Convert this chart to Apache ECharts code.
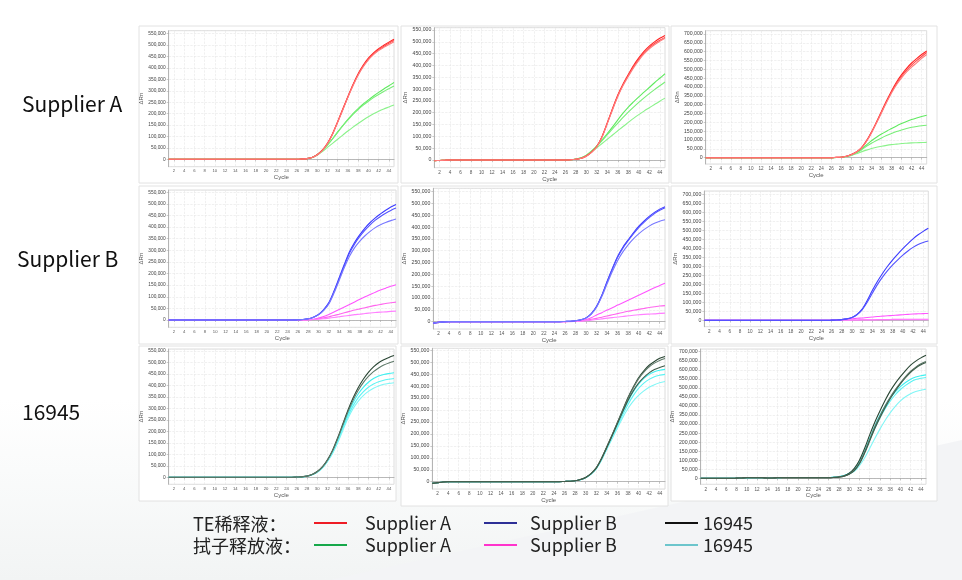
<!DOCTYPE html>
<html>
<head>
<meta charset="utf-8">
<script src="https://cdn.jsdelivr.net/npm/echarts@6/dist/echarts.min.js"></script>
<style>
html, body { margin: 0; padding: 0; background: #fff; }
#chart { width: 962px; height: 580px; }
</style>
</head>
<body>
<div id="chart"></div>
<script>
// x categories (cycle numbers)
var cycles = ['1','2','3','4','5','6','7','8','9','10','11','12','13','14','15','16','17','18','19','20',
  '21','22','23','24','25','26','27','28','29','30','31','32','33','34','35','36','37','38','39','40',
  '41','42','43','44','45'];

// ΔRn values in thousands, one array per well, cycles 1..45
// row Supplier A
var p1Red = [
  [0,0,0,0,0, 0,0,0,0,0, 0,0,0,0,0, 0,0,0,0,0, 0,0,0,0,0, 0,1,3,8,20,40,70,112,165,220,275,328,375,413,443,466,484,499,513,526],
  [0,0,0,0,0, 0,0,0,0,0, 0,0,0,0,0, 0,0,0,0,0, 0,0,0,0,0, 0,1,3,8,20,39,69,111,163,218,273,325,371,409,439,462,480,494,508,520],
  [0,0,0,0,0, 0,0,0,0,0, 0,0,0,0,0, 0,0,0,0,0, 0,0,0,0,0, 0,1,3,8,19,38,68,110,162,216,271,322,368,405,435,458,476,490,503,515]
];
var p1Green = [
  [0,0,0,0,0, 0,0,0,0,0, 0,0,0,0,0, 0,0,0,0,0, 0,0,0,0,0, 0,1,3,8,20,40,63,90,120,148,175,200,222,242,260,277,293,308,322,336],
  [0,0,0,0,0, 0,0,0,0,0, 0,0,0,0,0, 0,0,0,0,0, 0,0,0,0,0, 0,1,3,8,20,39,62,89,118,146,172,197,218,237,254,270,284,297,309,321],
  [0,0,0,0,0, 0,0,0,0,0, 0,0,0,0,0, 0,0,0,0,0, 0,0,0,0,0, 0,1,3,7,18,34,52,70,88,106,124,141,157,172,186,199,210,220,229,238]
];
var p2Red = [
  [-3,-2,-1,0,0, 0,0,0,0,0, 0,0,0,0,0, 0,0,0,0,0, 0,0,0,0,0, 0,1,3,7,17,33,58,100,158,218,275,322,362,400,432,460,482,500,515,527],
  [-3,-2,-1,0,0, 0,0,0,0,0, 0,0,0,0,0, 0,0,0,0,0, 0,0,0,0,0, 0,1,3,7,17,33,57,99,156,216,272,319,358,395,427,454,476,493,507,519],
  [-3,-2,-1,0,0, 0,0,0,0,0, 0,0,0,0,0, 0,0,0,0,0, 0,0,0,0,0, 0,1,3,7,16,32,56,97,154,213,269,315,354,390,422,449,471,488,502,515]
];
var p2Green = [
  [-3,-2,-1,0,0, 0,0,0,0,0, 0,0,0,0,0, 0,0,0,0,0, 0,0,0,0,0, 0,1,4,9,20,38,60,85,112,140,170,198,224,246,267,287,307,327,346,365],
  [-3,-2,-1,0,0, 0,0,0,0,0, 0,0,0,0,0, 0,0,0,0,0, 0,0,0,0,0, 0,1,4,9,20,37,58,82,107,132,156,180,203,224,244,263,281,298,314,330],
  [-3,-2,-1,0,0, 0,0,0,0,0, 0,0,0,0,0, 0,0,0,0,0, 0,0,0,0,0, 0,1,3,8,18,34,52,70,88,106,124,142,159,176,192,207,221,235,249,262]
];
var p3Red = [
  [0,0,0,0,0, 0,0,0,0,0, 0,0,0,0,0, 0,0,0,0,0, 0,0,0,0,0, 0,2,3,8,18,33,56,95,145,202,262,322,378,428,470,506,536,561,584,604],
  [0,0,0,0,0, 0,0,0,0,0, 0,0,0,0,0, 0,0,0,0,0, 0,0,0,0,0, 0,2,3,8,18,32,55,93,142,198,257,316,372,420,461,495,524,549,573,595],
  [0,0,0,0,0, 0,0,0,0,0, 0,0,0,0,0, 0,0,0,0,0, 0,0,0,0,0, 0,2,3,8,17,32,54,92,140,196,254,312,366,413,452,485,513,537,562,584]
];
var p3Green = [
  [0,0,0,0,0, 0,0,0,0,0, 0,0,0,0,0, 0,0,0,0,0, 0,0,0,0,0, 0,1,3,7,15,28,48,72,96,116,134,150,165,180,193,205,216,225,233,240],
  [0,0,0,0,0, 0,0,0,0,0, 0,0,0,0,0, 0,0,0,0,0, 0,0,0,0,0, 0,1,3,7,14,26,44,64,82,98,112,125,137,148,157,165,172,177,181,184],
  [0,0,0,0,0, 0,0,0,0,0, 0,0,0,0,0, 0,0,0,0,0, 0,0,0,0,0, 0,1,3,6,13,22,33,43,52,59,65,70,74,77,80,82,84,85,86,87]
];
// row Supplier B
var p4Blue = [
  [0,0,0,0,0, 0,0,0,0,0, 0,0,0,0,0, 0,0,0,0,0, 0,0,0,0,0, 1,2,5,12,24,45,75,125,182,240,294,335,368,396,420,440,457,473,487,498],
  [0,0,0,0,0, 0,0,0,0,0, 0,0,0,0,0, 0,0,0,0,0, 0,0,0,0,0, 1,2,5,12,23,43,72,121,177,234,288,328,360,387,410,430,446,460,472,482],
  [0,0,0,0,0, 0,0,0,0,0, 0,0,0,0,0, 0,0,0,0,0, 0,0,0,0,0, 1,2,5,11,22,41,69,116,170,226,275,312,340,363,382,398,410,420,428,435]
];
var p4Pink = [
  [0,0,0,0,0, 0,0,0,0,0, 0,0,0,0,0, 0,0,0,0,0, 0,0,0,0,0, 0,0,1,3,8,15,24,34,45,56,67,78,89,100,110,120,129,137,145,152],
  [0,0,0,0,0, 0,0,0,0,0, 0,0,0,0,0, 0,0,0,0,0, 0,0,0,0,0, 0,0,1,2,5,9,14,19,25,31,37,43,48,53,58,63,67,71,74,77],
  [0,0,0,0,0, 0,0,0,0,0, 0,0,0,0,0, 0,0,0,0,0, 0,0,0,0,0, 0,0,1,2,3,5,8,11,14,17,20,23,25,28,30,32,34,35,37,38]
];
var p5Blue = [
  [-6,-3,-1,0,0, 0,0,0,0,0, 0,0,0,0,0, 0,0,0,0,0, 0,0,0,0,0, 1,2,4,8,16,34,65,112,170,225,276,315,346,376,403,425,445,462,476,486],
  [-6,-3,-1,0,0, 0,0,0,0,0, 0,0,0,0,0, 0,0,0,0,0, 0,0,0,0,0, 1,2,4,8,16,33,63,110,167,222,272,311,342,371,398,420,440,457,471,482],
  [-6,-3,-1,0,0, 0,0,0,0,0, 0,0,0,0,0, 0,0,0,0,0, 0,0,0,0,0, 1,2,4,8,15,32,61,106,160,212,258,295,325,350,371,389,404,416,425,431]
];
var p5Pink = [
  [-6,-3,-1,0,0, 0,0,0,0,0, 0,0,0,0,0, 0,0,0,0,0, 0,0,0,0,0, 0,1,2,4,9,17,28,38,49,59,70,80,91,101,112,122,133,143,153,162],
  [-6,-3,-1,0,0, 0,0,0,0,0, 0,0,0,0,0, 0,0,0,0,0, 0,0,0,0,0, 0,1,2,3,6,10,14,19,24,29,34,39,44,48,52,56,60,63,66,68],
  [-6,-3,-1,0,0, 0,0,0,0,0, 0,0,0,0,0, 0,0,0,0,0, 0,0,0,0,0, 0,0,1,2,4,6,9,12,15,17,20,22,25,27,29,31,32,33,35,36]
];
var p6Blue = [
  [0,0,0,0,0, 0,0,0,0,0, 0,0,0,0,0, 0,0,0,0,0, 0,0,0,0,0, 1,2,4,8,16,33,62,110,165,215,260,300,336,368,398,426,452,475,494,511],
  [0,0,0,0,0, 0,0,0,0,0, 0,0,0,0,0, 0,0,0,0,0, 0,0,0,0,0, 1,2,4,8,15,31,58,100,150,198,240,276,308,336,362,385,405,421,432,440]
];
var p6Pink = [
  [0,0,0,0,0, 0,0,0,0,0, 0,0,0,0,0, 0,0,0,0,0, 0,0,0,0,0, 1,2,4,6,8,11,13,16,18,21,23,25,27,29,31,33,35,36,37,38],
  [0,0,0,0,0, 0,0,0,0,0, 0,0,0,0,0, 0,0,0,0,0, 0,0,0,0,0, 0,1,1,2,2,2,3,3,3,4,4,4,5,5,5,5,6,6,6,6],
  [0,0,0,0,0, 0,0,0,0,0, 0,0,0,0,0, 0,0,0,0,0, 0,0,0,0,0, 0,0,1,1,1,2,2,2,2,3,3,3,3,3,4,4,4,4,4,4]
];
// row 16945
var p7Dark = [
  [0,0,0,0,0, 0,0,0,0,0, 0,0,0,0,0, 0,0,0,0,0, 0,0,0,0,0, 1,2,5,12,25,45,76,118,172,232,292,345,390,427,457,481,499,512,522,530],
  [0,0,0,0,0, 0,0,0,0,0, 0,0,0,0,0, 0,0,0,0,0, 0,0,0,0,0, 1,2,5,12,24,44,74,115,168,227,285,336,378,412,439,460,476,489,498,505]
];
var p7Cyan = [
  [0,0,0,0,0, 0,0,0,0,0, 0,0,0,0,0, 0,0,0,0,0, 0,0,0,0,0, 1,2,5,11,23,42,72,110,160,218,276,325,363,392,414,430,441,448,452,455],
  [0,0,0,0,0, 0,0,0,0,0, 0,0,0,0,0, 0,0,0,0,0, 0,0,0,0,0, 1,2,5,11,22,41,70,107,155,211,266,311,346,372,392,406,416,423,427,430],
  [0,0,0,0,0, 0,0,0,0,0, 0,0,0,0,0, 0,0,0,0,0, 0,0,0,0,0, 1,2,5,11,22,40,68,104,150,204,256,299,331,356,374,388,398,405,409,412]
];
var p8Dark = [
  [-7,-4,-1,0,0, 0,0,0,0,0, 0,0,0,0,0, 0,0,0,0,0, 0,0,0,0,0, 1,2,4,9,18,34,58,98,146,196,248,300,352,396,435,464,487,503,516,524],
  [-7,-4,-1,0,0, 0,0,0,0,0, 0,0,0,0,0, 0,0,0,0,0, 0,0,0,0,0, 1,2,4,9,18,34,58,97,145,195,246,298,348,392,430,458,480,496,507,515],
  [-7,-4,-1,0,0, 0,0,0,0,0, 0,0,0,0,0, 0,0,0,0,0, 0,0,0,0,0, 1,2,4,9,18,33,57,96,143,192,242,292,340,380,412,436,455,469,478,485]
];
var p8Cyan = [
  [-7,-4,-1,0,0, 0,0,0,0,0, 0,0,0,0,0, 0,0,0,0,0, 0,0,0,0,0, 1,2,4,8,17,33,56,94,142,190,240,290,336,376,408,432,449,460,466,470],
  [-7,-4,-1,0,0, 0,0,0,0,0, 0,0,0,0,0, 0,0,0,0,0, 0,0,0,0,0, 1,2,4,8,17,32,55,92,139,185,232,280,323,360,390,412,428,439,445,449],
  [-7,-4,-1,0,0, 0,0,0,0,0, 0,0,0,0,0, 0,0,0,0,0, 0,0,0,0,0, 1,2,4,8,16,31,54,90,135,180,224,268,306,337,361,380,395,406,414,419]
];
var p9Dark = [
  [0,0,0,0,0, 0,0,1,2,3, 3,3,3,2,2, 3,3,3,3,3, 3,3,3,3,3, 3,5,8,14,28,55,100,165,240,310,372,430,482,525,562,596,626,648,666,680],
  [0,0,0,0,0, 0,0,1,2,3, 3,3,3,2,2, 3,3,3,3,3, 3,3,3,3,3, 3,5,7,12,24,45,85,145,215,285,345,400,448,490,528,562,592,615,633,646],
  [0,0,0,0,0, 0,0,1,2,3, 3,3,3,2,2, 3,3,3,3,3, 3,3,3,3,3, 3,4,6,11,22,42,80,138,206,275,335,390,440,483,522,556,586,610,628,641]
];
var p9Cyan = [
  [0,0,0,0,0, 0,0,1,2,2, 3,3,3,3,3, 3,4,4,4,4, 4,4,4,4,4, 4,6,9,15,28,50,92,150,222,290,350,400,443,478,507,530,548,560,567,572],
  [0,0,0,0,0, 0,0,1,2,2, 3,3,3,3,3, 3,4,4,4,4, 4,4,4,4,4, 4,6,9,15,27,46,86,142,210,276,334,384,427,462,491,514,533,546,553,557],
  [0,0,0,0,0, 0,0,1,2,2, 3,3,3,3,3, 3,4,4,4,4, 4,4,4,4,4, 4,6,9,14,24,38,70,112,165,220,272,320,362,398,428,451,468,480,487,492]
];

var rowLabels = ['Supplier A', 'Supplier B', '16945'];
var legendRows = ['TE稀释液：', '拭子释放液：'];

var reds = ['#ff2222', '#ff4848', '#ff7c7c'];
var greens = ['#5fea5f', '#78ee78', '#8af28a'];
var blues = ['#3a3aff', '#5252ff', '#7878ff'];
var pinks = ['#ff55ff', '#ff66ee', '#ff80ff'];
var darks = ['#2a4634', '#5d7868', '#3f5c4a'];
var cyans = ['#3ff0f0', '#5cf3f3', '#80f6f6'];

var panels = [
  { left: 168.7, top: 30.7, width: 225.3, height: 136, yMin: -32.4, yMax: 563, gap: 23, fs: 4.8, groups: [['SW-A', p1Green, greens], ['TE-A', p1Red, reds]] },
  { left: 434.3, top: 27.7, width: 230.7, height: 140, yMin: -32.6, yMax: 560, gap: 26, fs: 5.2, groups: [['SW-A', p2Green, greens], ['TE-A', p2Red, reds]] },
  { left: 705.7, top: 30.7, width: 221, height: 133.3, yMin: -35.6, yMax: 718.7, gap: 22, fs: 5.2, groups: [['SW-A', p3Green, greens], ['TE-A', p3Red, reds]] },
  { left: 168.7, top: 190, width: 227.3, height: 137.3, yMin: -31.5, yMax: 560, gap: 23, fs: 4.8, groups: [['SW-B', p4Pink, pinks], ['TE-B', p4Blue, blues]] },
  { left: 433.3, top: 188.3, width: 231.7, height: 140.7, yMin: -31, yMax: 564, gap: 25, fs: 5.2, groups: [['SW-B', p5Pink, pinks], ['TE-B', p5Blue, blues]] },
  { left: 704.3, top: 191, width: 224, height: 135.7, yMin: -35.5, yMax: 718, gap: 22, fs: 5.2, groups: [['SW-B', p6Pink, pinks], ['TE-B', p6Blue, blues]] },
  { left: 168.7, top: 349, width: 225.3, height: 135.3, yMin: -30.5, yMax: 558.7, gap: 23, fs: 4.8, groups: [['SW-N', p7Cyan, cyans], ['TE-N', p7Dark, darks]] },
  { left: 432.3, top: 348.3, width: 232.7, height: 140.7, yMin: -30.5, yMax: 558, gap: 24, fs: 5.2, groups: [['SW-N', p8Cyan, cyans], ['TE-N', p8Dark, darks]] },
  { left: 700.7, top: 349, width: 225.3, height: 135.3, yMin: -33.2, yMax: 715, gap: 22, fs: 5.2, groups: [['SW-N', p9Cyan, cyans], ['TE-N', p9Dark, darks]] }
];

var frames = [
  [139, 26, 259, 157], [401, 26, 268, 157], [671, 26, 266, 157],
  [139, 186, 259, 158], [401, 186, 268, 158], [671, 186, 266, 158],
  [139, 346, 257, 155], [401, 346, 267, 160], [671, 346, 266, 155]
];

function evenCycle(idx) { return idx % 2 === 1; }
function thousands(v) { return v === 0 ? '0' : (v * 1000).toLocaleString('en-US'); }

var grids = [], xAxes = [], yAxes = [], series = [];
panels.forEach(function (p, i) {
    grids.push({
        left: p.left, top: p.top, width: p.width, height: p.height,
        show: true, backgroundColor: '#fff', borderColor: '#dcdcdc', borderWidth: 1
    });
    xAxes.push({
        gridIndex: i, type: 'category', data: cycles, boundaryGap: false,
        name: 'Cycle', nameLocation: 'middle', nameGap: 8,
        nameTextStyle: { fontSize: 6, color: '#555', fontFamily: 'Liberation Sans' },
        axisLine: { lineStyle: { color: '#a8a8a8', width: 0.8 } },
        axisTick: { length: 2, interval: evenCycle, lineStyle: { color: '#a8a8a8', width: 0.6 } },
        axisLabel: { interval: evenCycle, fontSize: p.fs - 0.6, margin: 2.5, color: '#555', fontFamily: 'Liberation Sans' },
        splitLine: { show: true, interval: evenCycle, lineStyle: { color: '#e6e6e6', type: 'dashed', width: 0.6 } }
    });
    yAxes.push({
        gridIndex: i, type: 'value', min: p.yMin, max: p.yMax, minInterval: 50, maxInterval: 50,
        name: 'ΔRn', nameLocation: 'middle', nameGap: p.gap,
        nameTextStyle: { fontSize: 6, color: '#555', fontFamily: 'Liberation Sans' },
        axisLine: { show: true, lineStyle: { color: '#a8a8a8', width: 0.8 } },
        axisTick: { show: true, length: 2, lineStyle: { color: '#a8a8a8', width: 0.6 } },
        axisLabel: { fontSize: p.fs, margin: 3, color: '#444', fontFamily: 'Liberation Sans',
            showMinLabel: false, showMaxLabel: false, formatter: thousands },
        splitLine: { show: true, lineStyle: { color: '#e6e6e6', type: 'dashed', width: 0.6 } }
    });
    p.groups.forEach(function (g) {
        g[1].forEach(function (vals, k) {
            series.push({
                type: 'line', name: g[0], xAxisIndex: i, yAxisIndex: i, data: vals,
                showSymbol: false, smooth: 0.3, silent: true,
                lineStyle: { width: 1.1, color: g[2][k] }, itemStyle: { color: g[2][k] },
                emphasis: { disabled: true }
            });
        });
    });
});

// legend entries: series name, shown text, icon colour, position
var legendItems = [
    ['TE-A', 'Supplier A', '#ee1c25', 314, 514, 13],
    ['TE-B', 'Supplier B', '#2d2f96', 484, 514, 8],
    ['TE-N', '16945', '#111111', 665, 514, 0],
    ['SW-A', 'Supplier A', '#16a84a', 314, 536, 13],
    ['SW-B', 'Supplier B', '#ff33cc', 484, 536, 8],
    ['SW-N', '16945', '#6cc5cc', 665, 536, 0]
];
var legends = legendItems.map(function (it) {
    return {
        left: it[3], top: it[4], padding: 0, itemWidth: 33, itemHeight: 2, icon: 'rect',
        selectedMode: false,
        data: [{ name: it[0], itemStyle: { color: it[2] } }],
        formatter: function () { return it[1]; },
        textStyle: { fontSize: 18, color: '#222', fontFamily: 'Noto Sans CJK SC', padding: [0, 0, 0, it[5]] }
    };
});

// faint grey wash over the lower part of the page
var graphics = [
    { type: 'rect', shape: { x: 0, y: 400, width: 962, height: 180 }, silent: true, z: -20,
      style: { fill: new echarts.graphic.LinearGradient(0, 0, 0, 1, [
          { offset: 0, color: 'rgba(242,245,245,0)' }, { offset: 1, color: '#f2f4f4' }]) } },
    { type: 'polygon', shape: { points: [[330, 580], [962, 440], [962, 580]] }, style: { fill: '#f3f4f6' }, z: -19, silent: true }
];
frames.forEach(function (f) {
    graphics.push({ type: 'rect', shape: { x: f[0], y: f[1], width: f[2], height: f[3] },
        style: { fill: '#fff', stroke: '#e2e2e2', lineWidth: 1 }, z: -10, silent: true });
});
[[22, 104], [17, 259], [22, 412]].forEach(function (pos, r) {
    graphics.push({ type: 'text', x: pos[0], y: pos[1], silent: true,
        style: { text: rowLabels[r], fontSize: 21, fontFamily: 'Noto Sans CJK SC', fill: '#111', verticalAlign: 'middle' } });
});
[[193, 524], [193, 546]].forEach(function (pos, r) {
    graphics.push({ type: 'text', x: pos[0], y: pos[1], silent: true,
        style: { text: legendRows[r], fontSize: 18, fontFamily: 'Noto Sans CJK SC', fill: '#222', verticalAlign: 'middle' } });
});

var myChart = echarts.init(document.getElementById('chart'));
myChart.setOption({
    backgroundColor: '#fff',
    animation: false,
    graphic: { elements: graphics },
    legend: legends,
    grid: grids,
    xAxis: xAxes,
    yAxis: yAxes,
    series: series
});
</script>
</body>
</html>
